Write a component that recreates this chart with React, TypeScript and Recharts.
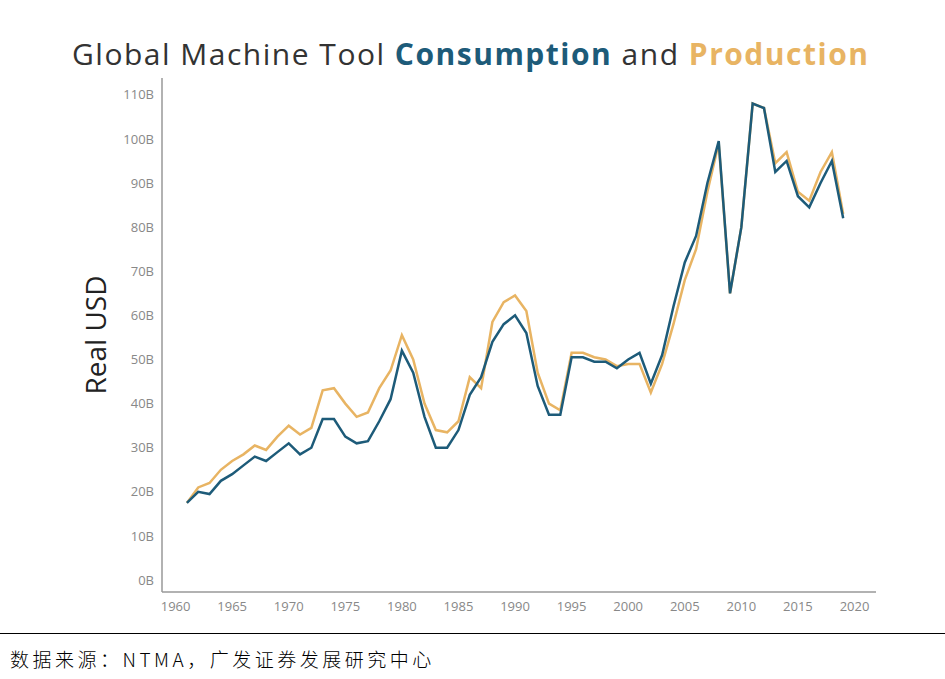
import React from "react";
import { LineChart, Line, XAxis, YAxis } from "recharts";

const years = Array.from({ length: 59 }, (_, i) => 1961 + i);
const consumption = [17.5,20,19.5,22.5,24,26,28,27,29,31,28.5,30,36.5,36.5,32.5,31,31.5,36,41,52,47,37,30,30,34,42,46,54,58,60,56,44,37.5,37.5,50.5,50.5,49.5,49.5,48,50,51.5,44.5,51,62,72,78,90,99.5,65,80,108,107,92.5,95,87,84.5,90,95,82];
const production = [17.5,21,22,25,27,28.5,30.5,29.5,32.5,35,33,34.5,43,43.5,40,37,38,43.5,47.5,55.5,50,40,34,33.5,36,46,43.5,58.5,63,64.5,61,47,40,38.5,51.5,51.5,50.5,50,48.5,49,49,42.5,49,58,68,75,88,99,65,80,108,107,94.5,97,88,86,92.5,97,83];
const xTicks = [1960,1965,1970,1975,1980,1985,1990,1995,2000,2005,2010,2015,2020];
const yTicks = [0,10,20,30,40,50,60,70,80,90,100,110];

const data = years.map((y, i) => ({ year: y, consumption: consumption[i], production: production[i] }));

const font = "'Open Sans', 'Noto Sans', sans-serif";

export default function App() {
  return (
    <div style={{ position: "absolute", left: 0, top: 0, width: 945, height: 679, background: "#fff", fontFamily: font }}>
      <div style={{ position: "absolute", top: 33, left: 72, whiteSpace: "nowrap", fontSize: 30, letterSpacing: 1.5, color: "#333" }}>
        Global Machine Tool <b style={{ color: "#1d5b79" }}>Consumption</b> and <b style={{ color: "#e8b463" }}>Production</b>
      </div>
      <div style={{ position: "absolute", left: 95, top: 335, transform: "translate(-50%,-50%) rotate(-90deg)", fontSize: 28, color: "#222", whiteSpace: "nowrap" }}>
        Real USD
      </div>
      <LineChart width={945} height={679} data={data} margin={{ top: 78, right: 69, bottom: 57, left: 102 }}>
        <XAxis dataKey="year" type="number" domain={[1958.8, 2021.9]} ticks={xTicks} allowDataOverflow
          tickLine={false} axisLine={{ stroke: "#999", strokeWidth: 1.5 }} height={30}
          tick={{ fill: "#888", fontSize: 13, fontFamily: font }} tickMargin={4} />
        <YAxis type="number" domain={[-2.7, 113.8]} ticks={yTicks} allowDataOverflow width={60}
          tickFormatter={(v) => `${v}B`} tickLine={false} axisLine={{ stroke: "#999", strokeWidth: 1.5 }}
          tick={{ fill: "#888", fontSize: 13, fontFamily: font }} tickMargin={2} />
        <Line dataKey="production" stroke="#e8b463" strokeWidth={2.5} dot={false} isAnimationActive={false} />
        <Line dataKey="consumption" stroke="#1d5b79" strokeWidth={2.5} dot={false} isAnimationActive={false} />
      </LineChart>
      <div style={{ position: "absolute", top: 633, left: 0, width: 945, borderTop: "1.5px solid #000" }} />
      <div style={{ position: "absolute", top: 645, left: 10, fontSize: 19, letterSpacing: 3.5, color: "#000", fontFamily: "'Noto Sans CJK SC', sans-serif", fontWeight: 300 }}>
        数据来源：NTMA，广发证券发展研究中心
      </div>
    </div>
  );
}
